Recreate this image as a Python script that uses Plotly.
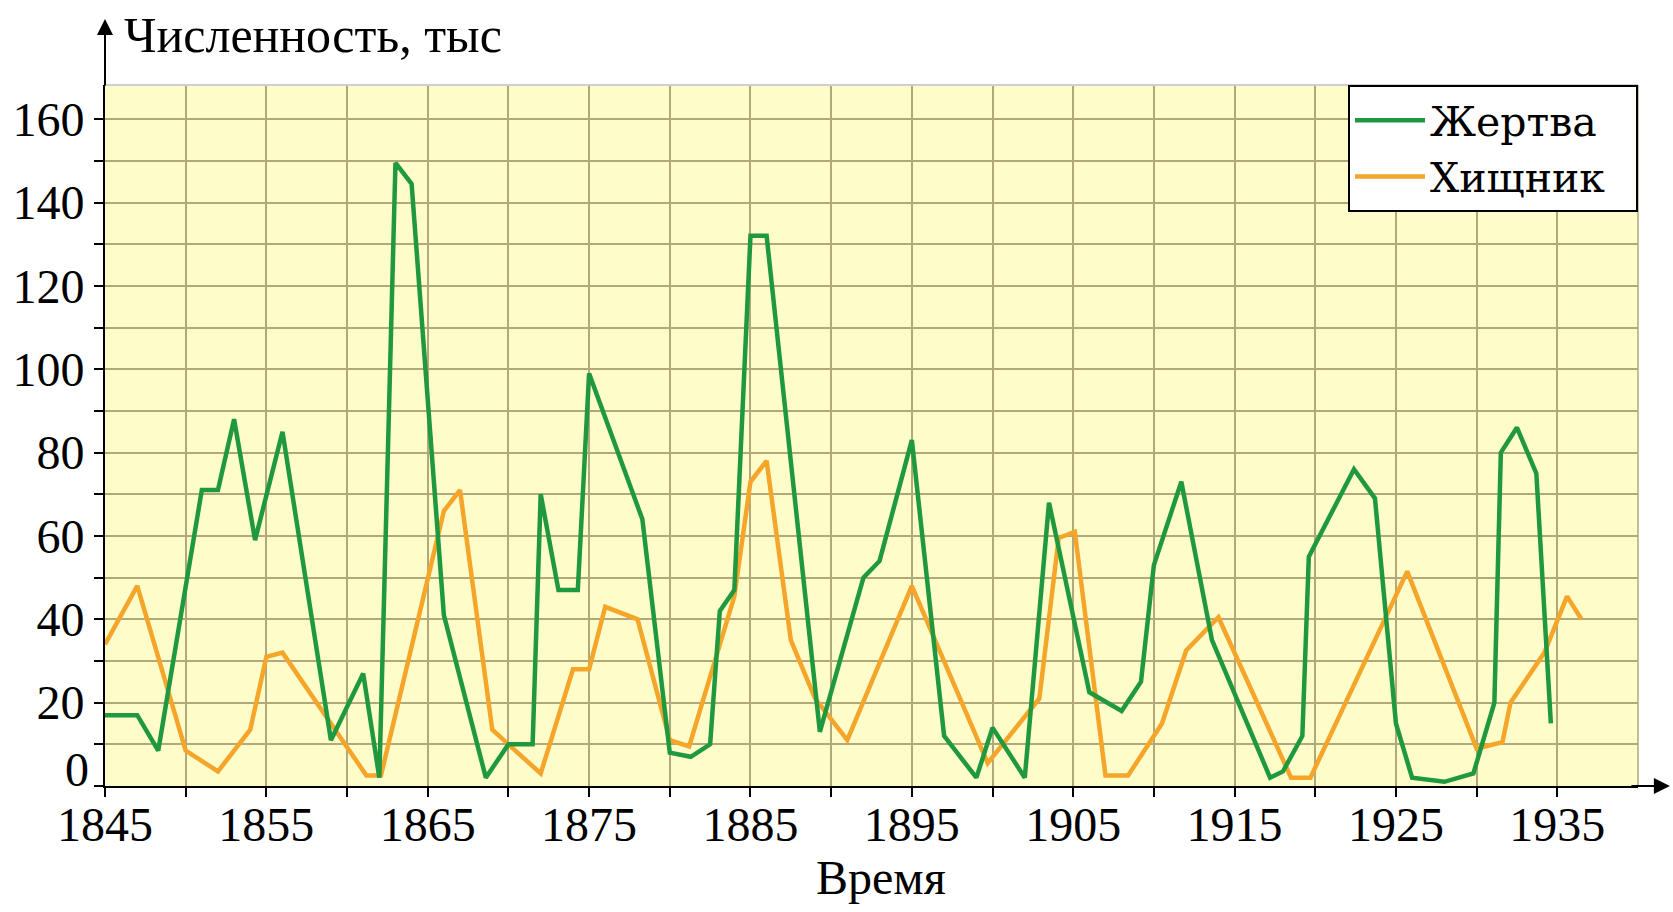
import plotly.graph_objects as go

# ---- data ----
prey_years = [1845, 1847, 1848.3, 1851, 1852, 1853, 1854.3, 1856, 1859, 1861, 1862, 1863, 1864,
              1866, 1868.6, 1870, 1871.5, 1872, 1873.1, 1874.3, 1875, 1878.3, 1880, 1881.3,
              1882.5, 1883.1, 1884, 1885, 1886, 1889.3, 1892, 1893, 1895, 1897, 1899, 1900,
              1902, 1903.5, 1906, 1908, 1909.2, 1910, 1911.7, 1913.6, 1917.2, 1918, 1919.2,
              1919.6, 1922.4, 1923.7, 1925, 1926, 1928, 1929.8, 1931.1, 1931.5, 1932.5,
              1933.7, 1934.6]
prey_values = [17, 17, 8.5, 71, 71, 88, 59, 85, 11, 27, 2, 149.5, 144.5,
               41, 2, 10, 10, 70, 47, 47, 99, 64, 8, 7,
               10, 42, 47, 132, 132, 13, 50, 54, 83, 12, 2, 14,
               2, 68, 22.5, 18, 25, 53, 73, 35, 2, 3.5, 12,
               55, 76, 69, 15, 2, 1, 3, 20, 80, 86,
               75, 15]

predator_years = [1845, 1847, 1850, 1852, 1854, 1855, 1856, 1861.2, 1862.1, 1866, 1867, 1869,
                  1872, 1874, 1875, 1876, 1878, 1880, 1881.2, 1884, 1885, 1886, 1887.5, 1889,
                  1891, 1895, 1899.7, 1902.9, 1904.1, 1905.1, 1907, 1908.4, 1910.5, 1912,
                  1914, 1918.5, 1919.7, 1925.7, 1930, 1931.6, 1932.1, 1934.2, 1935.6, 1936.5]
predator_values = [34, 48, 8.5, 3.5, 13.5, 31, 32, 2.5, 2.5, 66, 71, 13.5,
                   3, 28, 28, 43, 40, 11, 9.5, 45.5, 73, 78, 35, 21,
                   11, 48, 5.5, 21, 59.5, 61, 2.5, 2.5, 15, 32.5,
                   40.5, 2, 2, 51.5, 9, 10.5, 20, 32, 45.5, 40]

series_names = ["Жертва", "Хищник"]
x_tick_values = list(range(1845, 1940, 5))
x_tick_labels = [str(v) if (v - 1845) % 10 == 0 else "" for v in x_tick_values]
y_tick_values = list(range(0, 170, 10))
# the "0" label is drawn separately, raised above the corner as in the reference
y_tick_labels = [str(v) if (v % 20 == 0 and v > 0) else "" for v in y_tick_values]

GREEN = "#1f983f"
ORANGE = "#f4a52a"
FONT = "Liberation Serif"
GRID = "#b1a97c"
PAD = "\u00a0\u00a0"  # right padding inside the legend box

fig = go.Figure()
fig.add_trace(go.Scatter(x=predator_years, y=predator_values, mode="lines",
                         name=series_names[1] + PAD, line=dict(color=ORANGE, width=4.5)))
fig.add_trace(go.Scatter(x=prey_years, y=prey_values, mode="lines",
                         name=series_names[0] + PAD, line=dict(color=GREEN, width=4.5)))

fig.update_layout(
    width=1673, height=912,
    margin=dict(l=98, r=35, t=85, b=126),
    paper_bgcolor="white",
    plot_bgcolor="#fefcc8",
    font=dict(family=FONT, size=48, color="black"),
    showlegend=True,
    legend=dict(x=1, y=1, xanchor="right", yanchor="top", bgcolor="white",
                bordercolor="black", borderwidth=2, traceorder="reversed",
                font=dict(family="DejaVu Serif", size=41, color="black"),
                itemwidth=70, tracegroupgap=0),
    xaxis=dict(range=[1845, 1940], tickmode="array", tickvals=x_tick_values,
               ticktext=x_tick_labels, showgrid=True, gridcolor=GRID, gridwidth=1.5,
               showline=True, linecolor="black", linewidth=2, ticks="outside",
               ticklen=9, tickwidth=2, tickcolor="black", zeroline=False,
               ticklabelstandoff=-14,
               tickfont=dict(family=FONT, size=48, color="black")),
    yaxis=dict(range=[0, 168.2], tickmode="array", tickvals=y_tick_values,
               ticktext=y_tick_labels, showgrid=True, gridcolor=GRID, gridwidth=1.5,
               showline=True, linecolor="black", linewidth=2, ticks="outside",
               ticklen=9, tickwidth=2, tickcolor="black", zeroline=False,
               tickfont=dict(family=FONT, size=48, color="black")),
)

# frame lines: right grid edge and light top border
fig.add_shape(type="line", xref="paper", yref="paper", x0=1, x1=1, y0=0, y1=1,
              line=dict(color=GRID, width=1.5), layer="below")
fig.add_shape(type="line", xref="paper", yref="paper", x0=0, x1=1, y0=1, y1=1,
              line=dict(color="#cfcfcf", width=2))

# axis arrows
fig.add_annotation(xref="paper", yref="paper", x=0, y=1.094, ax=0, ay=68, text="",
                   showarrow=True, arrowhead=2, arrowsize=1.6, arrowwidth=2, arrowcolor="black")
fig.add_annotation(xref="paper", yref="paper", x=1.0208, y=0, ax=-40, ay=0, text="",
                   showarrow=True, arrowhead=2, arrowsize=1.6, arrowwidth=2, arrowcolor="black")

# raised zero label
fig.add_annotation(xref="paper", yref="paper", x=-0.009, y=0.024, xanchor="right", yanchor="middle",
                   text="0", showarrow=False, font=dict(family=FONT, size=48, color="black"))

# axis titles
fig.add_annotation(xref="paper", yref="paper", x=0.011, y=1.071, xanchor="left", yanchor="middle",
                   text="Численность, тыс", showarrow=False,
                   font=dict(family=FONT, size=50, color="black"))
fig.add_annotation(xref="paper", yref="paper", x=0.506, y=-0.131, xanchor="center", yanchor="middle",
                   text="Время", showarrow=False,
                   font=dict(family=FONT, size=48, color="black"))

fig.write_html("out.html", config={"displayModeBar": False},
               post_script="document.body.style.margin='0';document.body.style.overflow='hidden';")
